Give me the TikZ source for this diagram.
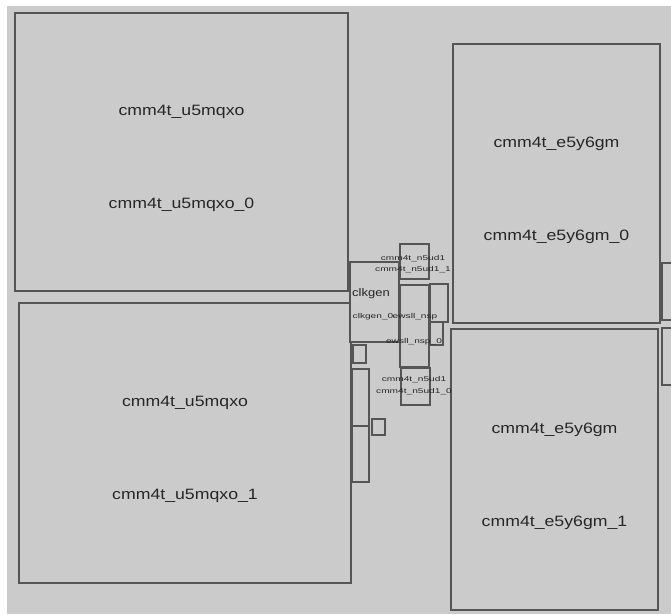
\documentclass[tikz,border=0pt]{standalone}
\usepackage{fontspec}
\setmainfont{Liberation Sans}
\newfontfamily\cellfont[FakeStretch=1.18]{Liberation Sans}
\newfontfamily\pinfont[FakeStretch=1.45]{Liberation Sans}
\definecolor{floor}{HTML}{CBCBCB}
\definecolor{edge}{HTML}{555555}
\definecolor{ink}{HTML}{262626}

\begin{document}
\begin{tikzpicture}[x=1pt,y=-1pt,
  cell/.style={draw=edge,fill=floor,line width=1.5pt},
  big/.style={font=\cellfont\fontsize{15}{17}\selectfont,text=ink},
  mid/.style={font=\cellfont\fontsize{11}{13}\selectfont,text=ink,inner sep=0pt},
  tiny/.style={font=\pinfont\fontsize{7}{8}\selectfont,text=ink,inner sep=0pt}]
  \useasboundingbox (0,0) rectangle (671,614);
  \fill[white] (0,0) rectangle (671,614);
  \fill[floor] (7,6) rectangle (671,614);

  % macros
  \foreach \name/\xa/\ya/\xb/\yb/\idx in {u5mqxo/15/13/348/291/0, u5mqxo/19/303/351/583/1,
      e5y6gm/453/44/660/323/0, e5y6gm/451/329/658/610/1} {
    \draw[cell] (\xa,\ya) rectangle (\xb,\yb);
    \node[big] (\name-\idx-a) at ({(\xa+\xb)/2},{(\ya+\yb)/2-40}) {cmm4t\_\name};
    \node[big] (\name-\idx-b) at ({(\xa+\xb)/2},{(\ya+\yb)/2+53}) {cmm4t\_\name\_\idx};
  }
  \draw[cell] (662,263) rectangle (680,320);
  \draw[cell] (662,328) rectangle (680,385);

  % small cells in the channel
  \draw[cell] (350,262) rectangle (399,342);
  \draw[cell] (400,244) rectangle (429,279);
  \draw[cell] (400,285) rectangle (429,367);
  \draw[cell] (430,284) rectangle (448,322);
  \draw[cell] (430,322) rectangle (443,345);
  \draw[edge,line width=2.4pt] (430,322) -- (442,322);
  \draw[cell] (401,368) rectangle (430,405);
  \draw[cell] (353,345) rectangle (366,363);
  \draw[cell] (352,369) rectangle (369,426);
  \draw[cell] (352,426) rectangle (369,482);
  \draw[edge,line width=2.6pt] (352,426) -- (369,426);
  \draw[cell] (372,419) rectangle (385,435);

  \node[mid] (clk-a) at (371,294) {clkgen};
  \node[tiny] (clk-b) at (373,317) {clkgen\_0};
  \node[tiny] (n1-a) at (413,259) {cmm4t\_n5ud1};
  \node[tiny] (n1-b) at (413,270) {cmm4t\_n5ud1\_1};
  \node[tiny] (rsp-a) at (415,317) {ewsll\_nsp};
  \node[tiny] (rsp-b) at (414,342) {ewsll\_nsp\_0};
  \node[tiny] (n0-a) at (414,380) {cmm4t\_n5ud1};
  \node[tiny] (n0-b) at (414,392) {cmm4t\_n5ud1\_0};
\end{tikzpicture}
\end{document}
